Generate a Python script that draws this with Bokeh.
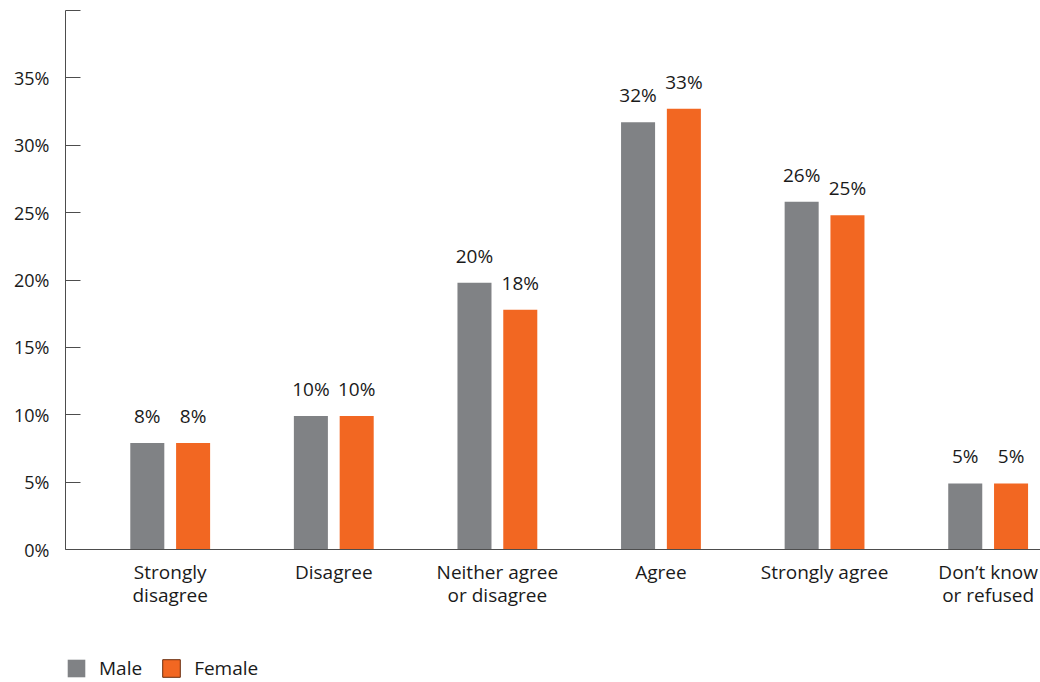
from bokeh.plotting import figure
from bokeh.layouts import column
from bokeh.models import ColumnDataSource, FixedTicker, Range1d, Legend, LegendItem
from bokeh.core.properties import value
from bokeh.embed import file_html
from bokeh.resources import INLINE

categories = ["Strongly\ndisagree", "Disagree", "Neither agree\nor disagree", "Agree", "Strongly agree", "Don\u2019t know\nor refused"]
series_names = ["Male", "Female"]
male = [7.9, 9.9, 19.8, 31.7, 25.8, 4.9]
female = [7.9, 9.9, 17.8, 32.7, 24.8, 4.9]
male_labels = ["8%", "10%", "20%", "32%", "26%", "5%"]
female_labels = ["8%", "10%", "18%", "33%", "25%", "5%"]
y_ticks = [0, 5, 10, 15, 20, 25, 30, 35, 40]
y_tick_labels = ["0%", "5%", "10%", "15%", "20%", "25%", "30%", "35%", ""]

GRAY = "#808285"
ORANGE = "#F26722"
FONT = "Open Sans"

idx = list(range(len(categories)))
centers = [i + 0.5 for i in idx]
off = 0.14
bw = 0.208

src_m = ColumnDataSource(dict(x=[c - off for c in centers], top=male, lab=male_labels))
src_f = ColumnDataSource(dict(x=[c + off for c in centers], top=female, lab=female_labels))

p = figure(width=1040, height=630, output_backend="svg", toolbar_location=None,
           x_range=Range1d(-0.14, 5.82), y_range=Range1d(0, 40),
           min_border_left=65, min_border_right=0, min_border_top=10, min_border_bottom=81)
p.background_fill_color = None
p.border_fill_color = "white"
p.outline_line_color = None
p.grid.visible = False

p.vbar(x="x", top="top", width=bw, bottom=0, source=src_m, fill_color=GRAY, line_color=None)
p.vbar(x="x", top="top", width=bw, bottom=0, source=src_f, fill_color=ORANGE, line_color=None)

for s in (src_m, src_f):
    p.text(x="x", y="top", text="lab", source=s, text_align="center", text_baseline="bottom",
           y_offset=-14, text_font=value(FONT), text_font_size="19px", text_color="#1a1a1a")

# y axis
ya = p.yaxis[0]
ya.ticker = FixedTicker(ticks=y_ticks)
ya.major_label_overrides = {t: l for t, l in zip(y_ticks, y_tick_labels)}
ya.major_tick_in = 15
ya.major_tick_out = 0
ya.minor_tick_line_color = None
ya.axis_line_color = "#4d4d4d"
ya.major_tick_line_color = "#4d4d4d"
ya.major_label_text_font = FONT
ya.major_label_text_font_size = "18px"
ya.major_label_text_color = "#1a1a1a"
ya.major_label_standoff = 16

# x axis
xa = p.xaxis[0]
xa.ticker = FixedTicker(ticks=centers)
xa.major_label_overrides = {c: l for c, l in zip(centers, categories)}
xa.major_tick_line_color = None
xa.minor_tick_line_color = None
xa.axis_line_color = "#4d4d4d"
xa.major_label_text_font = FONT
xa.major_label_text_font_size = "19px"
xa.major_label_text_color = "#1a1a1a"
xa.major_label_text_line_height = 0.9
xa.major_label_standoff = 3

# legend strip (same data sources, viewed outside their extent so only the legend shows)
lg = figure(width=1040, height=52, output_backend="svg", toolbar_location=None,
            x_range=Range1d(0, 1), y_range=Range1d(100, 101),
            min_border_left=0, min_border_right=0, min_border_top=0, min_border_bottom=0)
lg.axis.visible = False
lg.grid.visible = False
lg.outline_line_color = None
lg.background_fill_color = None
lg.border_fill_color = "white"
lm = lg.vbar(x="x", top="top", width=bw, bottom=0, source=src_m, fill_color=GRAY, line_color=None)
lf = lg.vbar(x="x", top="top", width=bw, bottom=0, source=src_f, fill_color=ORANGE,
             line_color="#6b2e0e", line_width=1)

legend = Legend(items=[LegendItem(label=series_names[0], renderers=[lm]),
                       LegendItem(label=series_names[1], renderers=[lf])],
                orientation="horizontal", location=(0, 1),
                label_text_font=FONT, label_text_font_size="19px", label_text_color="#1a1a1a",
                label_text_baseline="middle",
                glyph_width=22, glyph_height=22, spacing=18, label_standoff=12,
                border_line_color=None, background_fill_alpha=0, margin=0, padding=0)
lg.add_layout(legend)

layout = column(p, lg, spacing=0)
open("out.html", "w").write(file_html(layout, INLINE))
